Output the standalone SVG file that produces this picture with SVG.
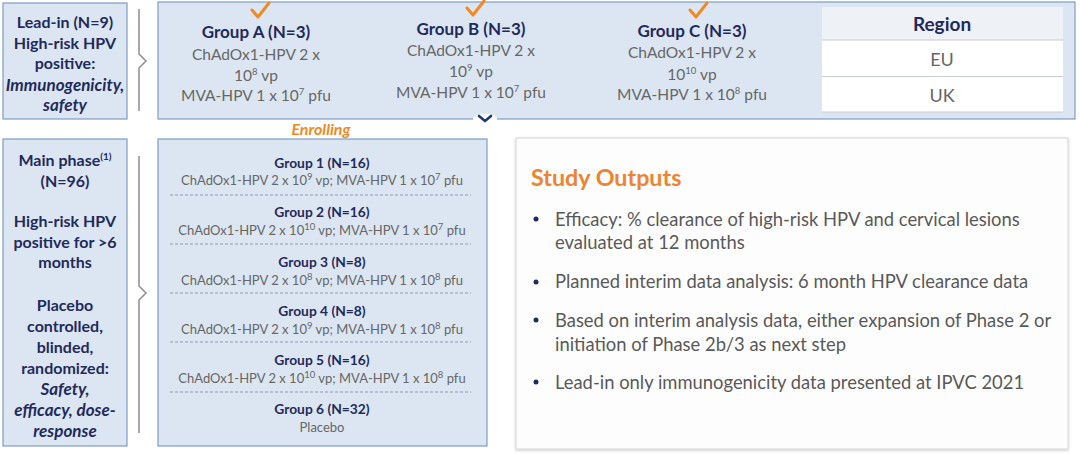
<svg xmlns="http://www.w3.org/2000/svg" width="1080" height="454" viewBox="0 0 1080 454">
<defs>
<style>
text{font-family:Lato,"Open Sans","Liberation Sans",sans-serif;}
.box{fill:#dce6f2;stroke:#7f9cc4;stroke-width:1.2;}
.nv{fill:#1f2b5b;font-weight:bold;text-anchor:middle;}
.gr{fill:#666;text-anchor:middle;}
.lt{font-size:16px;}
.it{font-size:17px;font-style:italic;}
.gh{font-size:17px;}
.gt{font-size:15.5px;}
.mh{font-size:13.8px;}
.mt{font-size:13px;}
.sup{font-size:9.5px;}
.dash{stroke:#8a9bb3;stroke-width:1;stroke-dasharray:3,2;}
.brk{fill:none;stroke:#8c8c96;stroke-width:1.5;}
.chk{fill:none;stroke:#f08a24;stroke-width:3;stroke-linecap:round;stroke-linejoin:round;}
.bul{fill:#595959;font-size:18.4px;}
</style>
<filter id="sh" x="-5%" y="-5%" width="110%" height="110%"><feDropShadow dx="0" dy="1" stdDeviation="1.5" flood-color="#000" flood-opacity="0.2"/></filter>
</defs>
<rect width="1080" height="454" fill="#ffffff"/>

<g id="leadin">
<rect class="box" x="3" y="3" width="124" height="116"/>
<text class="nv lt" x="65" y="28">Lead-in (N=9)</text>
<text class="nv lt" x="65" y="49">High-risk HPV</text>
<text class="nv lt" x="65" y="69">positive:</text>
<text class="nv it" x="65" y="91">Immunogenicity,</text>
<text class="nv it" x="65" y="111">safety</text>
</g>

<g id="connectors">
<path class="brk" d="M139,9 V54 L146,61 L139,68 V111"/>
<path class="brk" d="M139,156 V286 L146,293 L139,300 V433"/>
<polygon points="335,53 367,53 367,50 383,61 367,72 367,69 335,69" fill="#a6a6a6"/>
<polygon points="557,52 589,52 589,50 605,60 589,70 589,68 557,68" fill="#a6a6a6"/>
</g>

<g id="leadin-groups">
<rect class="box" x="158" y="2" width="917" height="117" fill="#dde7f3"/>
</g>

<g id="groupA">
<path class="chk" d="M252,10 L258,17 L269,3"/>
<text class="nv gh" x="256" y="38">Group A (N=3)</text>
<text class="gr gt" x="256" y="60">ChAdOx1-HPV 2 x</text>
<text class="gr gt" x="256" y="81">10<tspan class="sup" dy="-6">8</tspan><tspan dy="6"> vp</tspan></text>
<text class="gr gt" x="256" y="101">MVA-HPV 1 x 10<tspan class="sup" dy="-6">7</tspan><tspan dy="6"> pfu</tspan></text>
</g>

<g id="groupB">
<path class="chk" d="M467,8 L473,15 L484,1"/>
<text class="nv gh" x="471" y="35">Group B (N=3)</text>
<text class="gr gt" x="471" y="56">ChAdOx1-HPV 2 x</text>
<text class="gr gt" x="471" y="77">10<tspan class="sup" dy="-6">9</tspan><tspan dy="6"> vp</tspan></text>
<text class="gr gt" x="471" y="98">MVA-HPV 1 x 10<tspan class="sup" dy="-6">7</tspan><tspan dy="6"> pfu</tspan></text>
</g>

<g id="groupC">
<path class="chk" d="M690,10 L696,17 L707,3"/>
<text class="nv gh" x="692" y="37">Group C (N=3)</text>
<text class="gr gt" x="692" y="58">ChAdOx1-HPV 2 x</text>
<text class="gr gt" x="692" y="80">10<tspan class="sup" dy="-6">10</tspan><tspan dy="6"> vp</tspan></text>
<text class="gr gt" x="692" y="100">MVA-HPV 1 x 10<tspan class="sup" dy="-6">8</tspan><tspan dy="6"> pfu</tspan></text>
</g>

<g id="region">
<rect x="822" y="7" width="241" height="33" fill="#eef1f6"/>
<rect x="822" y="40" width="241" height="72" fill="#ffffff"/>
<line x1="822" y1="40" x2="1063" y2="40" stroke="#c8ccd2" stroke-width="1"/>
<line x1="822" y1="76.5" x2="1063" y2="76.5" stroke="#c8ccd2" stroke-width="1"/>
<line x1="822" y1="112" x2="1063" y2="112" stroke="#c8ccd2" stroke-width="1"/>
<text class="nv" x="942" y="31" font-size="19">Region</text>
<text class="gr" x="942" y="66" font-size="18">EU</text>
<text class="gr" x="942" y="102" font-size="18">UK</text>
</g>

<g id="chevron">
<ellipse cx="485" cy="119" rx="12" ry="5" fill="#ffffff"/>
<path d="M479,116 L485,121 L491,116" fill="none" stroke="#1f3a6e" stroke-width="2.6" stroke-linecap="round" stroke-linejoin="round"/>
</g>

<g id="enrolling">
<text x="321" y="135" font-size="16" font-weight="bold" font-style="italic" fill="#f08a24" text-anchor="middle">Enrolling</text>
</g>

<g id="mainphase">
<rect class="box" x="3" y="139" width="124" height="307"/>
<text class="nv lt" x="65" y="166">Main phase<tspan font-size="10" dy="-6">(1)</tspan></text>
<text class="nv lt" x="65" y="187">(N=96)</text>
<text class="nv lt" x="65" y="227">High-risk HPV</text>
<text class="nv lt" x="65" y="248">positive for &gt;6</text>
<text class="nv lt" x="65" y="268">months</text>
<text class="nv lt" x="65" y="311">Placebo</text>
<text class="nv lt" x="65" y="332">controlled,</text>
<text class="nv lt" x="65" y="353">blinded,</text>
<text class="nv lt" x="65" y="374">randomized:</text>
<text class="nv it" x="65" y="395">Safety,</text>
<text class="nv it" x="65" y="416">efficacy, dose-</text>
<text class="nv it" x="65" y="437">response</text>
</g>

<g id="main-groups">
<rect class="box" x="158" y="139" width="329" height="307" fill="#dde7f3"/>
<line class="dash" x1="170" y1="195" x2="471" y2="195"/>
<line class="dash" x1="170" y1="244" x2="471" y2="244"/>
<line class="dash" x1="170" y1="293" x2="471" y2="293"/>
<line class="dash" x1="170" y1="342" x2="471" y2="342"/>
<line class="dash" x1="170" y1="392" x2="471" y2="392"/>
<text class="nv mh" x="322" y="168">Group 1 (N=16)</text>
<text class="gr mt" x="322" y="185">ChAdOx1-HPV 2 x 10<tspan class="sup" dy="-5">9</tspan><tspan dy="5"> vp; MVA-HPV 1 x 10</tspan><tspan class="sup" dy="-5">7</tspan><tspan dy="5"> pfu</tspan></text>
<text class="nv mh" x="322" y="217">Group 2 (N=16)</text>
<text class="gr mt" x="322" y="235">ChAdOx1-HPV 2 x 10<tspan class="sup" dy="-5">10</tspan><tspan dy="5"> vp; MVA-HPV 1 x 10</tspan><tspan class="sup" dy="-5">7</tspan><tspan dy="5"> pfu</tspan></text>
<text class="nv mh" x="322" y="267">Group 3 (N=8)</text>
<text class="gr mt" x="322" y="285">ChAdOx1-HPV 2 x 10<tspan class="sup" dy="-5">8</tspan><tspan dy="5"> vp; MVA-HPV 1 x 10</tspan><tspan class="sup" dy="-5">8</tspan><tspan dy="5"> pfu</tspan></text>
<text class="nv mh" x="322" y="316">Group 4 (N=8)</text>
<text class="gr mt" x="322" y="334">ChAdOx1-HPV 2 x 10<tspan class="sup" dy="-5">9</tspan><tspan dy="5"> vp; MVA-HPV 1 x 10</tspan><tspan class="sup" dy="-5">8</tspan><tspan dy="5"> pfu</tspan></text>
<text class="nv mh" x="322" y="365">Group 5 (N=16)</text>
<text class="gr mt" x="322" y="383">ChAdOx1-HPV 2 x 10<tspan class="sup" dy="-5">10</tspan><tspan dy="5"> vp; MVA-HPV 1 x 10</tspan><tspan class="sup" dy="-5">8</tspan><tspan dy="5"> pfu</tspan></text>
<text class="nv mh" x="322" y="414">Group 6 (N=32)</text>
<text class="gr mt" x="322" y="432">Placebo</text>
</g>

<g id="outputs">
<rect x="516" y="138" width="552" height="311" fill="#fdfdfd" stroke="#d6d6d6" stroke-width="1" filter="url(#sh)"/>
<text x="531" y="186" font-size="23.3" font-weight="bold" fill="#ec8430">Study Outputs</text>
<circle cx="536" cy="219" r="2.5" fill="#1f2b5b"/>
<circle cx="536" cy="282" r="2.5" fill="#1f2b5b"/>
<circle cx="536" cy="320" r="2.5" fill="#1f2b5b"/>
<circle cx="536" cy="382" r="2.5" fill="#1f2b5b"/>
<text class="bul" x="555" y="226">Efficacy: % clearance of high-risk HPV and cervical lesions</text>
<text class="bul" x="555" y="249">evaluated at 12 months</text>
<text class="bul" x="555" y="288">Planned interim data analysis: 6 month HPV clearance data</text>
<text class="bul" x="555" y="327">Based on interim analysis data, either expansion of Phase 2 or</text>
<text class="bul" x="555" y="351">initiation of Phase 2b/3 as next step</text>
<text class="bul" x="555" y="389">Lead-in only immunogenicity data presented at IPVC 2021</text>
</g>
</svg>
